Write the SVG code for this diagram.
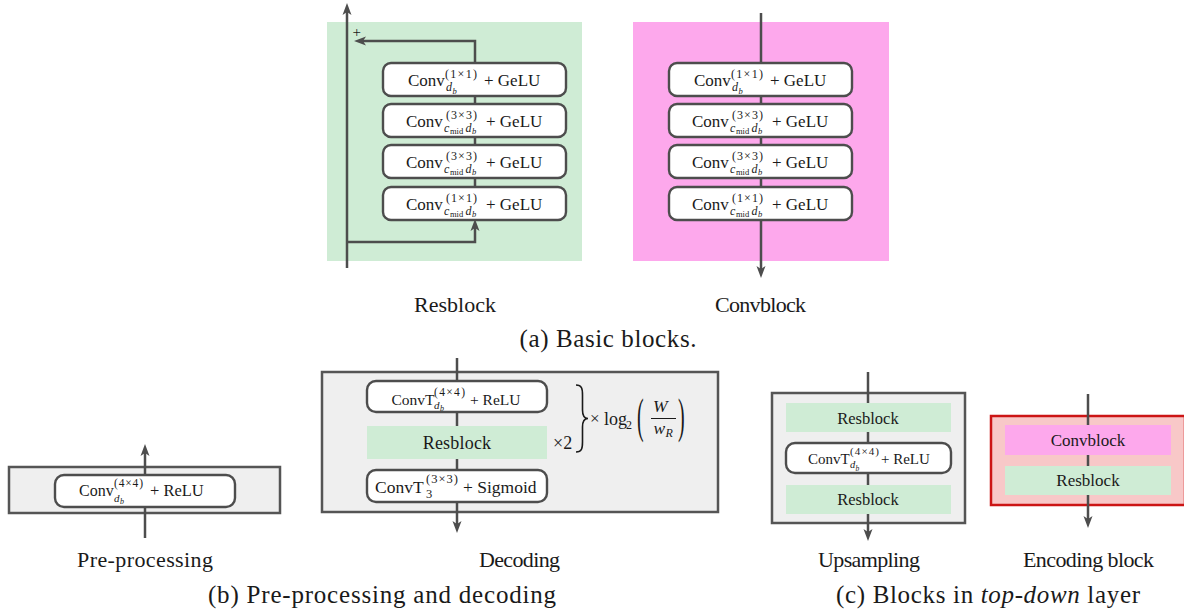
<svg xmlns="http://www.w3.org/2000/svg" width="1184" height="613" viewBox="0 0 1184 613">
  <defs>
    <marker id="arr" viewBox="0 0 12 10" refX="5" refY="5" markerWidth="12" markerHeight="10" markerUnits="userSpaceOnUse" orient="auto">
      <path d="M0,0.5 L12,5 L0,9.5 L3,5 Z" fill="#4d4d4d"/>
    </marker>
  </defs>
  <style>
    text { font-family: 'Liberation Serif', serif; fill: #1a1a1a; }
    .i { font-style: italic; }
    .ln { stroke: #4d4d4d; stroke-width: 2.5; fill: none; }
    .box { fill: #ffffff; stroke: #4d4d4d; stroke-width: 2.4; }
    .panel { fill: #efefef; stroke: #555555; stroke-width: 2.5; }
    .green { fill: #cfecd5; }
    .pink { fill: #fda8ec; }
    .lbl { font-size: 22px; text-anchor: middle; }
    .cap { font-size: 25px; text-anchor: middle; }
    .m16 { font-size: 17px; }
    .s11 { font-size: 12px; }
    .s8 { font-size: 8.5px; }
  </style>

  <!-- panel backgrounds -->
  <g id="resblock-panel"><rect x="327" y="22" width="255" height="239" class="green"/></g>
  <g id="convblock-panel"><rect x="633" y="22" width="256" height="239" class="pink"/></g>
  <g id="preprocessing-panel"><rect x="9" y="467" width="271" height="46" class="panel"/></g>
  <g id="decoding-panel"><rect x="322" y="372" width="396" height="140" class="panel"/></g>
  <g id="upsampling-panel"><rect x="772" y="393" width="193" height="130" class="panel"/></g>
  <g id="encoding-panel"><rect x="991" y="416" width="194" height="89" fill="#f8c8c8" stroke="#cc1515" stroke-width="2.5"/></g>

  <!-- connectors -->
  <g id="connectors">
    <path class="ln" d="M347,268 V10" marker-end="url(#arr)"/>
    <path class="ln" d="M475,63 V41 H361" marker-end="url(#arr)"/>
    <path class="ln" d="M347,242 H475 V226" marker-end="url(#arr)"/>
    <path class="ln" d="M475,96 V187"/>
    <path class="ln" d="M761,13 V271" marker-end="url(#arr)"/>
    <path class="ln" d="M145,538 V451" marker-end="url(#arr)"/>
    <path class="ln" d="M457,358 V526" marker-end="url(#arr)"/>
    <path class="ln" d="M868,372 V534" marker-end="url(#arr)"/>
    <path class="ln" d="M1088,394 V521" marker-end="url(#arr)"/>
  </g>

  <!-- skip-connection sum sign -->
  <text x="352.5" y="37" font-size="15">+</text>

  <!-- Resblock layers -->
  <g id="res-l1">
    <rect x="383" y="63" width="183" height="33" rx="8" class="box"/>
    <text class="m16" x="408" y="86">Conv</text>
    <text class="s11" x="445" y="78" textLength="32" lengthAdjust="spacing">(1×1)</text>
    <text class="s11 i" x="446" y="91">d</text><text class="s8 i" x="452.5" y="93.5">b</text>
    <text class="m16" x="484" y="86">+ GeLU</text>
  </g>
  <g id="res-l2">
    <rect x="383" y="104" width="183" height="33" rx="8" class="box"/>
    <text class="m16" x="406" y="127">Conv</text>
    <text class="s11" x="446" y="119" textLength="31" lengthAdjust="spacing">(3×3)</text>
    <text class="s11 i" x="444" y="132">c</text><text class="s8" x="450" y="134">mid</text>
    <text class="s11 i" x="465.5" y="132">d</text><text class="s8 i" x="472" y="134">b</text>
    <text class="m16" x="486" y="127">+ GeLU</text>
  </g>
  <g id="res-l3">
    <rect x="383" y="145" width="183" height="33" rx="8" class="box"/>
    <text class="m16" x="406" y="168">Conv</text>
    <text class="s11" x="446" y="160" textLength="31" lengthAdjust="spacing">(3×3)</text>
    <text class="s11 i" x="444" y="173">c</text><text class="s8" x="450" y="175">mid</text>
    <text class="s11 i" x="465.5" y="173">d</text><text class="s8 i" x="472" y="175">b</text>
    <text class="m16" x="486" y="168">+ GeLU</text>
  </g>
  <g id="res-l4">
    <rect x="383" y="187" width="183" height="33" rx="8" class="box"/>
    <text class="m16" x="406" y="210">Conv</text>
    <text class="s11" x="446" y="202" textLength="31" lengthAdjust="spacing">(1×1)</text>
    <text class="s11 i" x="444" y="215">c</text><text class="s8" x="450" y="217">mid</text>
    <text class="s11 i" x="465.5" y="215">d</text><text class="s8 i" x="472" y="217">b</text>
    <text class="m16" x="486" y="210">+ GeLU</text>
  </g>

  <!-- Convblock layers -->
  <g id="conv-l1">
    <rect x="669" y="63" width="183" height="33" rx="8" class="box"/>
    <text class="m16" x="694" y="86">Conv</text>
    <text class="s11" x="731" y="78" textLength="32" lengthAdjust="spacing">(1×1)</text>
    <text class="s11 i" x="732" y="91">d</text><text class="s8 i" x="738.5" y="93.5">b</text>
    <text class="m16" x="770" y="86">+ GeLU</text>
  </g>
  <g id="conv-l2">
    <rect x="669" y="104" width="183" height="33" rx="8" class="box"/>
    <text class="m16" x="692" y="127">Conv</text>
    <text class="s11" x="732" y="119" textLength="31" lengthAdjust="spacing">(3×3)</text>
    <text class="s11 i" x="730" y="132">c</text><text class="s8" x="736" y="134">mid</text>
    <text class="s11 i" x="751.5" y="132">d</text><text class="s8 i" x="758" y="134">b</text>
    <text class="m16" x="772" y="127">+ GeLU</text>
  </g>
  <g id="conv-l3">
    <rect x="669" y="145" width="183" height="33" rx="8" class="box"/>
    <text class="m16" x="692" y="168">Conv</text>
    <text class="s11" x="732" y="160" textLength="31" lengthAdjust="spacing">(3×3)</text>
    <text class="s11 i" x="730" y="173">c</text><text class="s8" x="736" y="175">mid</text>
    <text class="s11 i" x="751.5" y="173">d</text><text class="s8 i" x="758" y="175">b</text>
    <text class="m16" x="772" y="168">+ GeLU</text>
  </g>
  <g id="conv-l4">
    <rect x="669" y="187" width="183" height="33" rx="8" class="box"/>
    <text class="m16" x="692" y="210">Conv</text>
    <text class="s11" x="732" y="202" textLength="31" lengthAdjust="spacing">(1×1)</text>
    <text class="s11 i" x="730" y="215">c</text><text class="s8" x="736" y="217">mid</text>
    <text class="s11 i" x="751.5" y="215">d</text><text class="s8 i" x="758" y="217">b</text>
    <text class="m16" x="772" y="210">+ GeLU</text>
  </g>

  <!-- Pre-processing layer -->
  <g id="pre-conv">
    <rect x="55" y="475" width="180" height="32" rx="9" class="box"/>
    <text x="79" y="495.5" font-size="16">Conv</text>
    <text x="114" y="487" font-size="11.5" textLength="29" lengthAdjust="spacing">(4×4)</text>
    <text class="i" x="114" y="501.5" font-size="11">d</text><text class="i" x="120" y="504" font-size="8">b</text>
    <text x="150" y="495.5" font-size="16.5">+ ReLU</text>
  </g>

  <!-- Decoding layers -->
  <g id="dec-convt">
    <rect x="367" y="381" width="180" height="31" rx="9" class="box"/>
    <text x="391.5" y="404.5" font-size="15.5">ConvT</text>
    <text x="434" y="396" font-size="11.5" textLength="31" lengthAdjust="spacing">(4×4)</text>
    <text class="i" x="434" y="408.5" font-size="11">d</text><text class="i" x="440" y="411" font-size="8">b</text>
    <text x="470" y="404.5" font-size="15.5">+ ReLU</text>
  </g>
  <g id="dec-resblock">
    <rect x="367" y="426" width="180" height="33" class="green"/>
    <text x="457" y="448.5" font-size="18" text-anchor="middle" letter-spacing="0.2">Resblock</text>
  </g>
  <g id="dec-sigmoid">
    <rect x="367" y="470" width="180" height="32" rx="9" class="box"/>
    <text x="375" y="492.5" font-size="17.5">ConvT</text>
    <text x="426" y="483" font-size="12.5" textLength="32" lengthAdjust="spacing">(3×3)</text>
    <text x="426" y="498" font-size="12.5">3</text>
    <text x="463" y="492.5" font-size="17.5">+ Sigmoid</text>
  </g>

  <!-- repetition counts -->
  <g id="dec-repeat">
    <text x="553" y="448.5" font-size="18">×2</text>
    <path d="M576,385 C582,385 582.5,389 582.5,395 V410 C582.5,415.5 584,418.5 588,418.5 C584,418.5 582.5,421.5 582.5,427 V442 C582.5,448 582,452 576,452" fill="none" stroke="#1a1a1a" stroke-width="1.6"/>
    <text x="590" y="424" font-size="17">×</text>
    <text x="604" y="424.5" font-size="18">log</text>
    <text x="626" y="429" font-size="12">2</text>
    <text x="0" y="0" font-size="20" transform="translate(637,431.5) scale(1,2.45)">(</text>
    <text x="0" y="0" font-size="20" transform="translate(678,431.5) scale(1,2.45)">)</text>
    <text class="i" x="653" y="412" font-size="17.5">W</text>
    <line x1="651" y1="418.5" x2="676" y2="418.5" stroke="#1a1a1a" stroke-width="1"/>
    <text class="i" x="653.5" y="433.5" font-size="17.5">w</text>
    <text class="i" x="665.5" y="437" font-size="12">R</text>
  </g>

  <!-- Upsampling layers -->
  <g id="up-res1">
    <rect x="786" y="403" width="165" height="29" class="green"/>
    <text x="868" y="424" font-size="16.5" text-anchor="middle">Resblock</text>
  </g>
  <g id="up-convt">
    <rect x="786" y="443" width="165" height="30" rx="9" class="box"/>
    <text x="808" y="463.5" font-size="15">ConvT</text>
    <text x="850" y="455" font-size="11" textLength="29" lengthAdjust="spacing">(4×4)</text>
    <text class="i" x="850" y="468" font-size="10.5">d</text><text class="i" x="855.5" y="470.5" font-size="7.5">b</text>
    <text x="881" y="463.5" font-size="15">+ ReLU</text>
  </g>
  <g id="up-res2">
    <rect x="786" y="485" width="165" height="29" class="green"/>
    <text x="868" y="505" font-size="16.5" text-anchor="middle">Resblock</text>
  </g>

  <!-- Encoding block layers -->
  <g id="enc-conv">
    <rect x="1005" y="425" width="166" height="30" class="pink"/>
    <text x="1088" y="445.5" font-size="17" text-anchor="middle">Convblock</text>
  </g>
  <g id="enc-res">
    <rect x="1005" y="466" width="166" height="29" class="green"/>
    <text x="1088" y="486" font-size="17" text-anchor="middle">Resblock</text>
  </g>

  <!-- labels and captions -->
  <g id="labels">
    <text class="lbl" x="455" y="311.5" textLength="82" lengthAdjust="spacing">Resblock</text>
    <text class="lbl" x="760.5" y="311.5" textLength="91" lengthAdjust="spacing">Convblock</text>
    <text class="cap" x="608" y="347" textLength="177" lengthAdjust="spacing">(a) Basic blocks.</text>
    <text class="lbl" x="145" y="567" textLength="136" lengthAdjust="spacing">Pre-processing</text>
    <text class="lbl" x="519.5" y="567" textLength="81" lengthAdjust="spacing">Decoding</text>
    <text class="cap" x="382" y="603" textLength="348" lengthAdjust="spacing">(b) Pre-processing and decoding</text>
    <text class="lbl" x="869" y="567" textLength="102" lengthAdjust="spacing">Upsampling</text>
    <text class="lbl" x="1088.5" y="567" textLength="131" lengthAdjust="spacing">Encoding block</text>
    <text class="cap" x="988" y="603" textLength="304" lengthAdjust="spacing">(c) Blocks in <tspan class="i">top-down</tspan> layer</text>
  </g>
</svg>
